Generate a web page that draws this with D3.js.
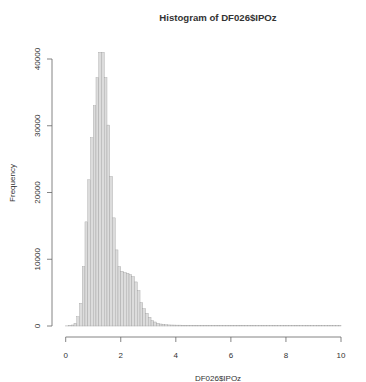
<!DOCTYPE html>
<html>
<head>
<meta charset="utf-8">
<script src="https://cdn.jsdelivr.net/npm/d3@7"></script>
<style>
  body { margin: 0; background: #fff; }
  text { font-family: "Liberation Sans", Arial, sans-serif; fill: #333; }
</style>
</head>
<body>
<svg id="chart" width="366" height="382"></svg>
<script>
// bin width 0.1, bins start at 0
let binStarts = d3.range(0, 10.0001, 0.1).map(v => +v.toFixed(1)).slice(0, 100);
let counts = [
    20, 60, 150, 400, 1400, 3400, 8900, 15600, 21900, 28200,
    33000, 37200, 41000, 41000, 37200, 30100, 22400, 16200, 11400, 8900,
    8200, 8000, 7900, 7700, 7400, 6600, 5300, 3500, 2600, 1900,
    1300, 800, 600, 400, 300, 220, 180, 160, 150, 140,
    130, 130, 120, 120, 110, 110, 100, 100, 100, 95,
    95, 90, 90, 90, 85, 85, 85, 80, 80, 80,
    90, 95, 100, 110, 100, 90, 80, 75, 75, 70,
    70, 70, 65, 65, 65, 60, 60, 60, 60, 55,
    60, 70, 80, 85, 75, 65, 60, 55, 55, 50,
    50, 50, 45, 45, 45, 40, 40, 40, 35, 35
];
let xTicks = [0, 2, 4, 6, 8, 10];
let yTicks = [0, 10000, 20000, 30000, 40000];
let binWidth = 0.1;

let svg = d3.select("#chart");

// 0 -> 65.7px, 10 -> 341px ; y 0 -> 326, 40000 -> 59
let x = d3.scaleLinear().domain([0, 10]).range([65.7, 341]);
let y = d3.scaleLinear().domain([0, 40000]).range([326, 59]);

let bins = binStarts.map((b, i) => ({x0: b, x1: b + binWidth, n: counts[i]}));

svg.append("g").selectAll("rect")
    .data(bins)
    .enter().append("rect")
    .attr("x", d => x(d.x0))
    .attr("width", d => x(d.x1) - x(d.x0))
    .attr("y", d => y(d.n))
    .attr("height", d => y(0) - y(d.n))
    .attr("fill", "#dcdcdc")
    .attr("stroke", "#a0a0a0")
    .attr("stroke-width", 0.4);

// x axis (R style)
let xAxis = svg.append("g").attr("transform", "translate(0,337)");
xAxis.append("line")
    .attr("x1", x(0)).attr("x2", x(10))
    .attr("stroke", "#666").attr("stroke-width", 0.8);
xAxis.selectAll(".xt").data(xTicks).enter().append("line")
    .attr("x1", d => x(d)).attr("x2", d => x(d))
    .attr("y1", 0).attr("y2", 5)
    .attr("stroke", "#666").attr("stroke-width", 0.8);
xAxis.selectAll(".xl").data(xTicks).enter().append("text")
    .attr("x", d => x(d)).attr("y", 21)
    .attr("text-anchor", "middle")
    .attr("font-size", 8)
    .text(d => d);

// y axis
let yAxis = svg.append("g").attr("transform", "translate(52,0)");
yAxis.append("line")
    .attr("y1", y(0)).attr("y2", y(40000))
    .attr("stroke", "#666").attr("stroke-width", 0.8);
yAxis.selectAll(".yt").data(yTicks).enter().append("line")
    .attr("y1", d => y(d)).attr("y2", d => y(d))
    .attr("x1", 0).attr("x2", -5)
    .attr("stroke", "#666").attr("stroke-width", 0.8);
yAxis.selectAll(".yl").data(yTicks).enter().append("text")
    .attr("transform", d => "translate(-12," + y(d) + ") rotate(-90)")
    .attr("text-anchor", "middle")
    .attr("font-size", 8)
    .text(d => d);

// titles
svg.append("text")
    .attr("x", 218).attr("y", 21)
    .attr("text-anchor", "middle")
    .attr("font-size", 9.6)
    .attr("font-weight", "bold")
    .text("Histogram of DF026$IPOz");

svg.append("text")
    .attr("x", 218).attr("y", 381)
    .attr("text-anchor", "middle")
    .attr("font-size", 8)
    .text("DF026$IPOz");

svg.append("text")
    .attr("transform", "translate(15,183) rotate(-90)")
    .attr("text-anchor", "middle")
    .attr("font-size", 8)
    .text("Frequency");
</script>
</body>
</html>
